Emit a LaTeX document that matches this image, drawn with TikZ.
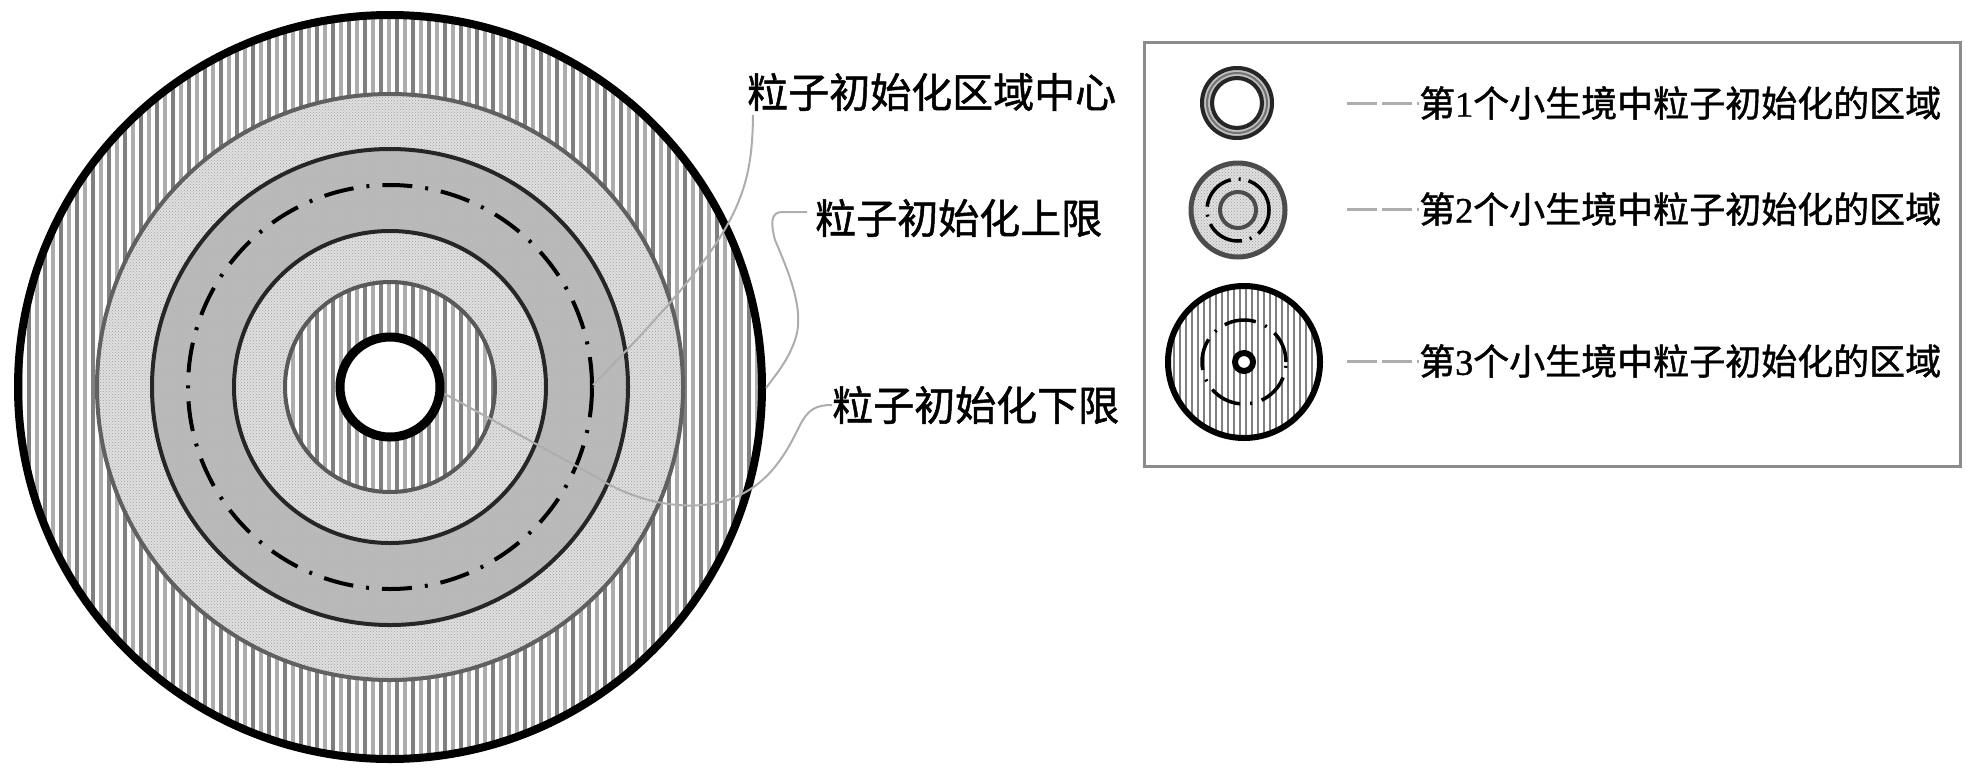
\documentclass[tikz,border=0pt]{standalone}
\usepackage{fontspec}
\usetikzlibrary{patterns}
\newfontfamily\cjk{Noto Sans CJK SC}[FakeBold=1.2]
\newfontfamily\dig{Liberation Serif}[FakeBold=1.2]
\definecolor{lightband}{gray}{0.88}
\definecolor{midband}{gray}{0.72}
\definecolor{stripeA}{gray}{0.5}
\definecolor{stripeB}{gray}{0.68}
\definecolor{leadgray}{gray}{0.68}
\definecolor{boxgray}{gray}{0.55}
\begin{document}
\begin{tikzpicture}[x=1pt,y=-1pt,
  bigtxt/.style={font=\cjk\fontsize{41}{48}\selectfont, inner sep=0pt, anchor=west},
  legtxt/.style={font=\cjk\fontsize{36}{42}\selectfont, inner sep=0pt, anchor=west},
  leader/.style={draw=leadgray, line width=2pt},
  legdash/.style={draw=leadgray, line width=3pt, dash pattern=on 30pt off 5pt},
  ringline/.style={line width=4pt},
  texture/.style={pattern=crosshatch dots, pattern color=gray!75},
  dashdot/.style={draw=black, line width=4pt, dash pattern=on 30pt off 13pt on 3pt off 13pt}
]
\useasboundingbox (0,0) rectangle (1969,777);
\coordinate (C) at (390,387);

% ---- big disc ----
\begin{scope}
  \clip (C) circle[radius=373pt];
  \fill[white] (0,0) rectangle (780,777);
  \foreach \i in {0,...,47} {
    \draw[stripeA, line width=3.5pt] ({13+\i*16},0) -- ({13+\i*16},777);
    \draw[stripeB, line width=3.5pt] ({21+\i*16},0) -- ({21+\i*16},777);
  }
\end{scope}
\fill[lightband] (C) circle[radius=293pt];
\fill[texture, even odd rule] (C) circle[radius=293pt] (C) circle[radius=238pt];
\fill[midband] (C) circle[radius=238pt];
\fill[texture, pattern color=gray!50, even odd rule] (C) circle[radius=238pt] (C) circle[radius=156pt];
\fill[lightband] (C) circle[radius=156pt];
\fill[texture, even odd rule] (C) circle[radius=156pt] (C) circle[radius=105pt];
\begin{scope}
  \clip (C) circle[radius=105pt];
  \fill[white] (280,280) rectangle (500,500);
  \foreach \i in {0,...,47} {
    \draw[stripeA, line width=3.5pt] ({13+\i*16},0) -- ({13+\i*16},777);
    \draw[stripeB, line width=3.5pt] ({21+\i*16},0) -- ({21+\i*16},777);
  }
\end{scope}
\fill[white] (C) circle[radius=50pt];
\draw[ringline, gray!75!black] (C) circle[radius=293pt];
\draw[ringline, black!85] (C) circle[radius=238pt];
\draw[ringline, black!85] (C) circle[radius=156pt];
\draw[ringline, gray!70!black] (C) circle[radius=105pt];
\draw[dashdot] (C) circle[radius=202pt];
\draw[black, line width=8pt] (C) circle[radius=372pt];
\draw[black, line width=9pt] (C) circle[radius=50pt];

% ---- labels ----
\node[bigtxt] (lc) at (747,92) {粒子初始化区域中心};
\node[bigtxt] (lu) at (815,218) {粒子初始化上限};
\node[bigtxt] (ll) at (832,405) {粒子初始化下限};

\coordinate (ec) at (593,385);
\coordinate (eu) at (766,388);
\coordinate (el) at (445,394);
\coordinate (lm) at (598,478);

\draw[leader] (lc.south west) ++(6,4) .. controls (752,200) and (735,240) .. (ec);
\draw[leader] (lu.west) ++(-8,-6) -- (782,212) .. controls (770,212) and (771,225) .. (775,240)
   .. controls (790,275) and (805,312) .. (795,340) .. controls (788,360) and (778,372) .. (eu);
\draw[leader] (el) -- (lm) .. controls (640,505) and (700,515) .. (740,495)
   .. controls (775,478) and (790,445) .. (800,425) .. controls (808,410) and (815,405) .. (ll.west);

% ---- legend ----
\node[draw=boxgray, line width=3pt, inner sep=0pt, minimum width=816pt, minimum height=424pt, anchor=north west] (box) at (1143,41) {};

% icon 1
\coordinate (I1) at (1237,103);
\fill[gray!50, even odd rule] (I1) circle[radius=37pt] (I1) circle[radius=23pt];
\draw[black!85, line width=4pt] (I1) circle[radius=35pt];
\draw[black!85, line width=4pt] (I1) circle[radius=25pt];
\draw[black!55, line width=2pt] (I1) circle[radius=30pt];

% icon 2
\coordinate (I2) at (1238,210);
\fill[lightband] (I2) circle[radius=48pt];
\fill[texture] (I2) circle[radius=48pt];
\draw[gray!60!black, line width=5pt] (I2) circle[radius=47pt];
\draw[gray!60!black, line width=4pt] (I2) circle[radius=18pt];
\draw[black, line width=3.5pt, dash pattern=on 38pt off 8pt on 2pt off 8pt] (I2) circle[radius=31pt];

% icon 3
\coordinate (I3) at (1244,362);
\begin{scope}
  \clip (I3) circle[radius=78pt];
  \fill[white] (1160,280) rectangle (1330,445);
  \foreach \i in {0,...,30} {
    \draw[stripeA, line width=2.5pt] ({1162+\i*6},280) -- ({1162+\i*6},445);
  }
\end{scope}
\draw[black, line width=6pt] (I3) circle[radius=76pt];
\draw[black, line width=3.5pt, dash pattern=on 32pt off 10pt on 2pt off 10pt] (I3) circle[radius=42pt];
\fill[white] (I3) circle[radius=9pt];
\draw[black, line width=6pt] (I3) circle[radius=9pt];

% legend texts
\node[legtxt] (t1) at (1419,103) {第{\dig 1}个小生境中粒子初始化的区域};
\node[legtxt] (t2) at (1419,209) {第{\dig 2}个小生境中粒子初始化的区域};
\node[legtxt] (t3) at (1419,361) {第{\dig 3}个小生境中粒子初始化的区域};
\coordinate (d1) at (1347,103);
\coordinate (d2) at (1347,209);
\coordinate (d3) at (1347,361);
\draw[legdash] (d1) -- (t1.west);
\draw[legdash] (d2) -- (t2.west);
\draw[legdash] (d3) -- (t3.west);
\end{tikzpicture}
\end{document}
